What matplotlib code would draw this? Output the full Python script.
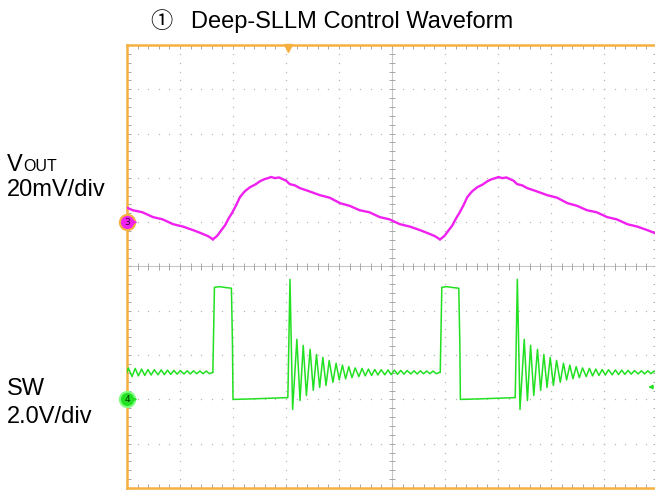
import numpy as np
import matplotlib
matplotlib.use('Agg')
import matplotlib.pyplot as plt

# scope screen is 10 x 10 divisions; time axis in divisions
rise_times = [-2.66, 1.62, 5.91]      # SW rising edges (div)
ring_start = 1.415                    # ringing starts this long after rise (div)

# ch3 VOUT, mV, time measured from SW rising edge (div)
vout_t = [0.00, 0.05, 0.09, 0.16, 0.23, 0.30, 0.36, 0.44, 0.51, 0.60, 0.70, 0.80, 0.89,
          0.97, 1.04, 1.10, 1.17, 1.25, 1.32, 1.38, 1.45, 1.55, 1.64, 1.80, 2.02, 2.20,
          2.40, 2.58, 2.77, 2.95, 3.15, 3.33, 3.53, 3.72, 3.91, 4.05, 4.19, 4.28]
vout_mv = [-7.7, -6.8, -5.9, -3.6, -1.4, 1.8, 4.1, 7.7, 11.3, 13.9, 15.8, 17.0, 18.5,
           19.4, 19.9, 20.4, 19.9, 20.2, 19.4, 18.8, 17.2, 16.6, 15.4, 14.1, 12.2, 11.1,
           8.6, 7.4, 5.4, 4.5, 2.3, 1.3, -0.9, -2.0, -3.6, -4.9, -6.3, -7.7]

# ch4 SW, V : switching pulse then low period
pulse_t = [0.00, 0.03, 0.12, 0.24, 0.35, 0.37, 0.38, 0.70, 1.05, 1.41]
pulse_v = [1.22, 5.06, 5.09, 5.05, 5.02, 2.50, 0.00, 0.02, 0.05, 0.08]

# ch4 SW ringing after the low period (time from ring start, div)
ring_dt = [0.00, 0.04, 0.09, 0.17, 0.23, 0.29, 0.35, 0.42, 0.48, 0.54, 0.60, 0.66, 0.72,
           0.78, 0.85, 0.91, 0.97, 1.03, 1.09, 1.15, 1.21, 1.27, 1.34, 1.40, 1.46, 1.52,
           1.58, 1.64, 1.70, 1.76, 1.83, 1.89, 1.95, 2.01, 2.07, 2.13, 2.19, 2.25, 2.32,
           2.38, 2.44, 2.50, 2.56, 2.62, 2.68, 2.74, 2.80, 2.86]
ring_v = [0.08, 5.42, -0.45, 2.71, -0.05, 2.44, 0.18, 2.26, 0.41, 2.03, 0.54, 1.90, 0.63,
          1.76, 0.77, 1.63, 0.88, 1.55, 0.93, 1.48, 0.98, 1.42, 1.03, 1.40, 1.06, 1.37,
          1.08, 1.35, 1.10, 1.34, 1.11, 1.33, 1.12, 1.32, 1.13, 1.31, 1.14, 1.30, 1.15,
          1.29, 1.15, 1.29, 1.16, 1.28, 1.16, 1.28, 1.16, 1.22]

ch3_pos, ch3_scale = 6.0, 20.0   # div, mV/div
ch4_pos, ch4_scale = 2.0, 2.0    # div, V/div

orange = '#f5b040'
magenta = '#f020f0'
green = '#22e022'
grid_c = '#b8b8b8'

fig = plt.figure(figsize=(6.55, 4.9), dpi=100)
ax = fig.add_axes([127/655, 2/490, 530/655, 443/490])
ax.set_xlim(0, 10)
ax.set_ylim(0, 10)
ax.set_xticks([])
ax.set_yticks([])
for s in ['left', 'top', 'bottom']:
    ax.spines[s].set_color(orange)
    ax.spines[s].set_linewidth(1.8)
ax.spines['right'].set_color(grid_c)
ax.spines['right'].set_linewidth(0.8)

# dotted graticule
minor = np.arange(0, 10.01, 0.2)
for k in range(1, 10):
    if k == 5:
        continue
    ax.plot(np.full_like(minor, k), minor, ls='', marker='s', ms=0.9, color=grid_c, mew=0)
    ax.plot(minor, np.full_like(minor, k), ls='', marker='s', ms=0.9, color=grid_c, mew=0)

# centre cross with ticks
ax.axvline(5, color='#c8c8c8', lw=0.8)
ax.axhline(5, color='#c8c8c8', lw=0.8)
tk_c = '#a8a8a8'
ax.vlines(minor, 5 - 0.07, 5 + 0.07, color=tk_c, lw=0.7)
ax.hlines(minor, 5 - 0.06, 5 + 0.06, color=tk_c, lw=0.7)
ax.vlines(minor, 10 - 0.08, 10, color=tk_c, lw=0.7)
ax.vlines(minor, 0, 0.08, color=tk_c, lw=0.7)
ax.hlines(minor, 0, 0.07, color=tk_c, lw=0.7)
ax.hlines(minor, 10 - 0.07, 10, color=tk_c, lw=0.7)

# traces
for r in rise_times:
    t = r + np.array(vout_t)
    ax.plot(t, ch3_pos + np.array(vout_mv) / ch3_scale, color=magenta, lw=1.7, zorder=5)
    t_sw = np.concatenate([r + np.array(pulse_t), r + ring_start + np.array(ring_dt)])
    v_sw = np.concatenate([pulse_v, ring_v])
    ax.plot(t_sw, ch4_pos + v_sw / ch4_scale, color=green, lw=1.1, zorder=5)

# channel markers
ax.plot(0, ch3_pos, marker='o', ms=11, mfc=magenta, mec=orange, mew=1.5, clip_on=False, zorder=10)
ax.text(0, ch3_pos, '3', fontsize=6.5, ha='center', va='center', color='#400040', zorder=11)
ax.annotate('', xy=(0.25, ch3_pos), xytext=(0.08, ch3_pos),
            arrowprops=dict(arrowstyle='-|>', color=magenta, lw=1, mutation_scale=6), zorder=10)
ax.plot(0, ch4_pos, marker='o', ms=11, mfc=green, mec='#80ff80', mew=1.5, clip_on=False, zorder=10)
ax.text(0, ch4_pos, '4', fontsize=6.5, ha='center', va='center', color='#003000', zorder=11)
ax.annotate('', xy=(0.25, ch4_pos), xytext=(0.08, ch4_pos),
            arrowprops=dict(arrowstyle='-|>', color=green, lw=1, mutation_scale=6), zorder=10)
ax.annotate('', xy=(9.78, 2.28), xytext=(9.98, 2.28),
            arrowprops=dict(arrowstyle='-|>', color=green, lw=1, mutation_scale=6), zorder=10)
# trigger position
ax.plot(3.04, 9.93, marker='v', ms=6, color=orange, clip_on=False, zorder=10)

# labels
font = ['Liberation Sans', 'Noto Sans CJK JP', 'DejaVu Sans']
fig.text(150/655, 1 - 28/490, '\u2460', fontsize=16, family=font, va='baseline')
fig.text(191/655, 1 - 28/490, 'Deep-SLLM Control Waveform', fontsize=17, family=font, va='baseline')
fig.text(7/655, 1 - 171/490, 'V', fontsize=17, family=font, va='baseline')
fig.text(23/655, 1 - 171/490, 'OUT', fontsize=11.5, family=font, va='baseline')
fig.text(7/655, 1 - 196/490, '20mV/div', fontsize=17, family=font, va='baseline')
fig.text(7/655, 1 - 395/490, 'SW', fontsize=17, family=font, va='baseline')
fig.text(7/655, 1 - 423/490, '2.0V/div', fontsize=17, family=font, va='baseline')

fig.savefig('out.png', dpi=100)
